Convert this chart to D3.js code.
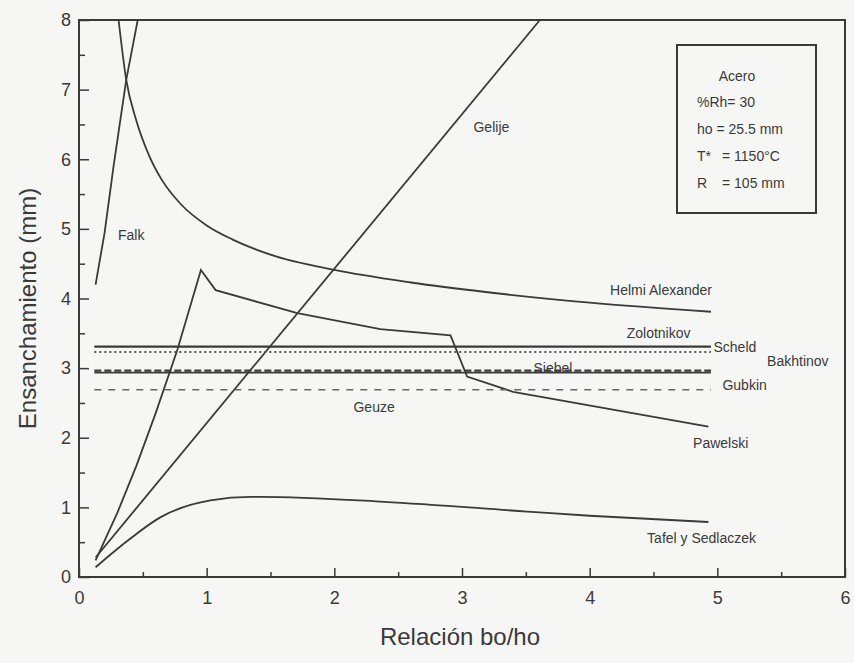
<!DOCTYPE html>
<html>
<head>
<meta charset="utf-8">
<script src="https://cdn.jsdelivr.net/npm/d3@7/dist/d3.min.js"></script>
<style>
  html, body { margin: 0; padding: 0; background: #f6f6f4; }
  svg { display: block; font-family: "Liberation Sans", Arial, sans-serif; }
</style>
</head>
<body>
<svg id="chart" width="854" height="663"></svg>
<script>
// ---- data ----
const xTicks = [0, 1, 2, 3, 4, 5, 6];
const yTicks = [0, 1, 2, 3, 4, 5, 6, 7, 8];

const falkX = [0.13, 0.20, 0.27, 0.37, 0.46];
const falkY = [4.20, 4.94, 5.89, 7.14, 8.00];

const helmiX = [0.31, 0.37, 0.45, 0.55, 0.65, 0.80, 1.00, 1.20, 1.50, 2.00, 2.60, 3.20, 4.00, 4.95];
const helmiY = [8.00, 7.14, 6.55, 6.05, 5.70, 5.35, 5.05, 4.85, 4.63, 4.41, 4.23, 4.09, 3.94, 3.81];

const gelijeX = [0.13, 3.61];
const gelijeY = [0.28, 8.00];

const pawelskiX = [0.13, 0.30, 0.45, 0.60, 0.77, 0.955, 1.07, 1.71, 2.36, 2.91, 3.04, 3.40, 4.93];
const pawelskiY = [0.24, 0.92, 1.60, 2.35, 3.26, 4.41, 4.12, 3.79, 3.56, 3.47, 2.88, 2.66, 2.16];

const tafelX = [0.13, 0.38, 0.64, 1.03, 1.35, 1.42, 2.39, 3.51, 4.00, 4.93];
const tafelY = [0.14, 0.52, 0.86, 1.10, 1.15, 1.15, 1.08, 0.94, 0.88, 0.79];

// constant-value methods
const constNames  = ["Scheld", "Bakhtinov", "Siebel", "Gubkin", "Geuze"];
const constValues = [3.31, 3.23, 2.965, 2.935, 2.69];
const constFrom = 0.12, constTo = 4.95;

const labelTexts = ["Falk", "Gelije", "Helmi Alexander", "Zolotnikov", "Scheld", "Bakhtinov",
                    "Siebel", "Gubkin", "Geuze", "Pawelski", "Tafel y Sedlaczek"];
const labelX = [0.305, 3.09, 4.16, 4.29, 4.97, 5.39, 3.56, 5.04, 2.15, 4.81, 4.45];
const labelY = [4.84, 6.39, 4.05, 3.43, 3.23, 3.03, 2.93, 2.69, 2.37, 1.85, 0.49];

const infoLines = ["Acero", "%Rh= 30", "ho = 25.5 mm", "T*", "R"];
const infoValues = ["", "", "", "= 1150°C", "= 105 mm"];

// ---- drawing ----
const svg = d3.select("#chart");
const ink = "#3a3a3a";
const x = d3.scaleLinear().domain([0, 6]).range([79, 845]);
const y = d3.scaleLinear().domain([0, 8]).range([577, 20]);

// axes
const gx = svg.append("g").attr("transform", `translate(0,${y(0)})`)
  .call(d3.axisBottom(x).tickValues(xTicks).tickSize(-9).tickPadding(14).tickFormat(d3.format("d")));
const gxm = svg.append("g").attr("transform", `translate(0,${y(0)})`)
  .call(d3.axisBottom(x).tickValues(d3.range(0.5, 6, 1)).tickSize(-5).tickFormat(""));
const gy = svg.append("g").attr("transform", `translate(${x(0)},0)`)
  .call(d3.axisLeft(y).tickValues(yTicks).tickSize(-10).tickPadding(14).tickFormat(d3.format("d")));
const gym = svg.append("g").attr("transform", `translate(${x(0)},0)`)
  .call(d3.axisLeft(y).tickValues(d3.range(0.5, 8, 1)).tickSize(-6).tickFormat(""));
[gx, gxm, gy, gym].forEach(g => {
  g.select(".domain").remove();
  g.selectAll("line").attr("stroke", ink).attr("stroke-width", 1.5);
  g.selectAll("text").attr("fill", ink).attr("font-size", 18);
});
gy.selectAll("text").attr("dx", 6);

// frame
svg.append("rect")
  .attr("x", x(0)).attr("y", y(8))
  .attr("width", x(6) - x(0)).attr("height", y(0) - y(8))
  .attr("fill", "none").attr("stroke", ink).attr("stroke-width", 2);

// axis titles
svg.append("text").attr("x", (x(0) + x(6)) / 2 - 2).attr("y", 645)
  .attr("text-anchor", "middle").attr("font-size", 24).attr("fill", ink).text("Relación bo/ho");
svg.append("text").attr("transform", `translate(36,${(y(0) + y(8)) / 2 + 10}) rotate(-90)`)
  .attr("text-anchor", "middle").attr("font-size", 24).attr("fill", ink).text("Ensanchamiento (mm)");

// curves
const zip = (xs, ys) => xs.map((v, i) => [v, ys[i]]);
const plot = svg.append("g").attr("fill", "none").attr("stroke", ink).attr("stroke-width", 1.8);
const linear = d3.line().x(d => x(d[0])).y(d => y(d[1]));
const smooth = d3.line().x(d => x(d[0])).y(d => y(d[1])).curve(d3.curveMonotoneX);

plot.append("path").attr("d", linear(zip(falkX, falkY)));
plot.append("path").attr("d", smooth(zip(helmiX, helmiY)));
plot.append("path").attr("d", linear(zip(gelijeX, gelijeY)));
plot.append("path").attr("d", linear(zip(pawelskiX, pawelskiY)));
plot.append("path").attr("d", smooth(zip(tafelX, tafelY)));

// constant lines
const constStyles = [
  { dash: null,  color: ink,    w: 2.2 },
  { dash: "2,3", color: "#555", w: 2.0 },
  { dash: "7,3", color: ink,    w: 2.2 },
  { dash: null,  color: ink,    w: 1.6 },
  { dash: "7,7", color: "#666", w: 1.5 }
];
constValues.forEach((v, i) => {
  const st = constStyles[i];
  plot.append("path")
    .attr("d", linear([[constFrom, v], [constTo, v]]))
    .attr("stroke", st.color).attr("stroke-width", st.w)
    .attr("stroke-dasharray", st.dash);
});

// curve labels
svg.append("g").selectAll("text").data(labelTexts).join("text")
  .attr("x", (d, i) => x(labelX[i])).attr("y", (d, i) => y(labelY[i]))
  .attr("font-size", 14).attr("fill", ink)
  .text(d => d);

// info box
const bx = 677, by = 45, bw = 139, bh = 168;
svg.append("rect").attr("x", bx).attr("y", by).attr("width", bw).attr("height", bh)
  .attr("fill", "none").attr("stroke", ink).attr("stroke-width", 2);
const infoY = [81, 107, 134, 161, 188];
infoLines.forEach((t, i) => {
  svg.append("text")
    .attr("x", i === 0 ? 737 : 697).attr("y", infoY[i])
    .attr("text-anchor", i === 0 ? "middle" : "start")
    .attr("font-size", 14).attr("fill", ink).text(t);
  if (infoValues[i]) {
    svg.append("text").attr("x", 722).attr("y", infoY[i])
      .attr("font-size", 14).attr("fill", ink).text(infoValues[i]);
  }
});
</script>
</body>
</html>
